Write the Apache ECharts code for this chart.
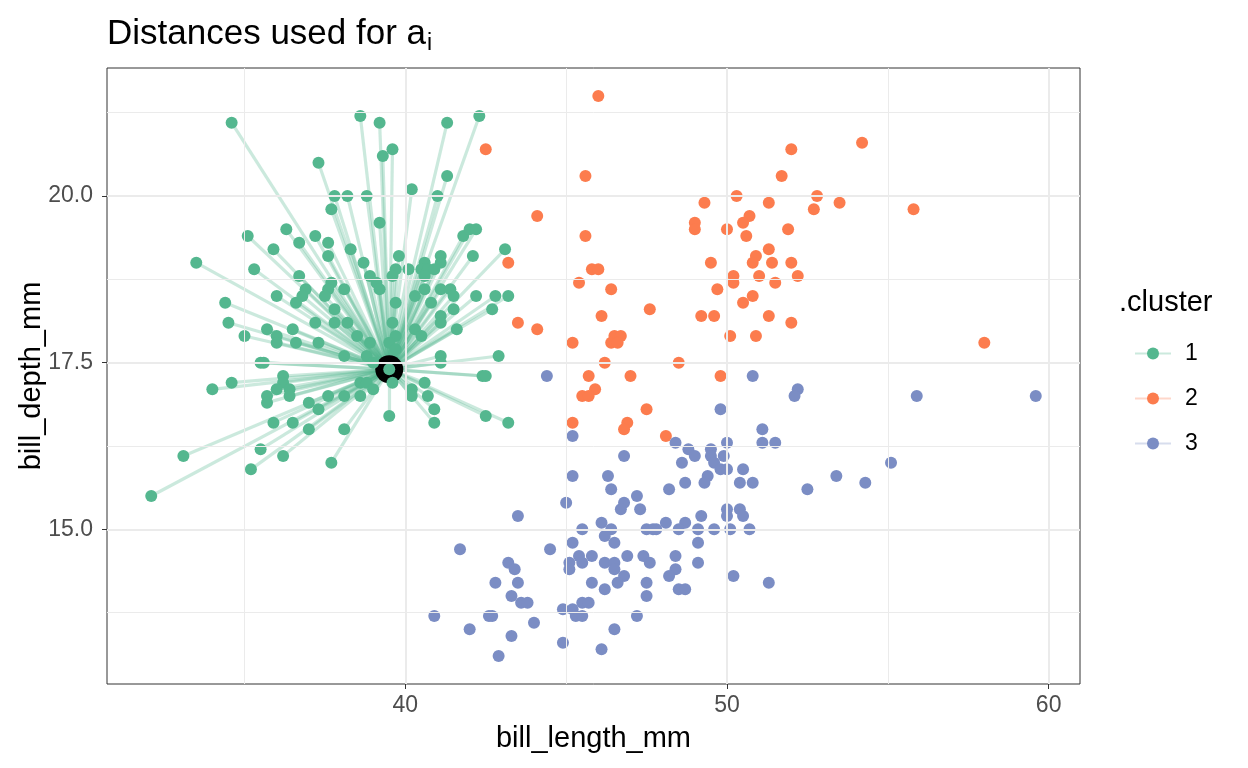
<!DOCTYPE html>
<html><head><meta charset="utf-8">
<script src="https://cdn.jsdelivr.net/npm/echarts@6/dist/echarts.min.js"></script>
<style>html,body{margin:0;padding:0;background:#fff}#c{width:1248px;height:768px}</style>
</head><body><div id="c"></div>
<script>
// ---- data (bill_length_mm, bill_depth_mm) ----
const cluster1 = [
[34.6,21.1],[37.3,20.5],[37.8,20.0],[38.2,20.0],[37.7,19.8],[38.6,21.2],[38.3,19.2],[35.1,19.4],[36.3,19.5],[37.2,19.4],
[36.7,19.3],[37.6,19.3],[35.9,19.2],[37.6,19.1],[33.5,19.0],[35.3,18.9],[36.7,18.8],[37.7,18.7],[36.9,18.6],
[39.2,21.1],[41.3,21.1],[42.3,21.2],[39.6,20.7],[39.3,20.6],[41.3,20.3],[40.2,20.1],[38.8,20.0],[41.0,20.0],[39.2,19.6],
[41.8,19.4],[42.0,19.5],[42.2,19.5],[43.1,19.2],[42.1,19.1],[38.7,19.0],[39.8,19.1],[38.9,18.8],[39.1,18.7],[39.7,18.9],
[39.6,18.8],[40.1,18.9],[40.6,19.0],[41.1,19.1],[41.1,19.0],[40.5,18.9],[40.7,18.9],[40.9,18.9],[40.6,18.8],
[37.6,18.6],[38.1,18.6],[39.2,18.6],[40.3,18.5],[40.6,18.6],[40.8,18.4],[41.1,18.6],[41.4,18.6],[41.5,18.5],[41.5,18.3],
[42.2,18.5],[42.8,18.5],[43.2,18.5],[42.7,18.3],[41.1,18.2],[41.1,18.1],[41.6,18.0],[40.3,18.0],[40.5,17.9],[39.7,18.4],
[39.6,18.1],[39.7,17.9],[39.5,17.8],[39.7,17.7],[38.9,17.8],[38.5,17.9],[38.2,18.1],[37.8,18.1],[37.8,18.3],[38.1,17.6],
[38.8,17.6],[39.0,17.5],[41.1,17.6],[41.1,17.5],[42.9,17.6],[42.4,17.3],[42.5,17.3],[39.5,17.4],[39.6,17.2],[38.6,17.2],
[38.8,17.2],[39.0,17.1],[38.1,17.0],[37.6,17.0],[38.6,17.0],[40.2,17.1],[40.2,17.0],[40.6,17.2],[40.7,17.0],[40.9,16.8],
[40.9,16.6],[39.5,16.7],[38.1,16.5],[42.5,16.7],[43.2,16.6],
[34.4,18.4],[34.5,18.1],[35.0,17.9],[36.0,18.5],[36.6,18.4],[36.8,18.5],[37.5,18.5],[35.7,18.0],[36.0,17.9],[36.0,17.8],
[36.5,18.0],[36.6,17.8],[37.2,18.1],[37.3,17.8],[35.5,17.5],[35.6,17.5],[34.6,17.2],[34.0,17.1],[36.2,17.3],[36.2,17.2],
[36.0,17.1],[36.4,17.1],[35.7,17.0],[35.7,16.9],[36.4,17.0],[37.0,16.9],[37.3,16.8],[35.9,16.6],[36.5,16.6],[37.0,16.5],
[35.5,16.2],[36.2,16.1],[33.1,16.1],[35.2,15.9],[37.7,16.0],[32.1,15.5]
];
const cluster2 = [
[42.5,20.7],[43.2,19.0],[43.5,18.1],[44.1,18.0],[46.0,21.5],[45.6,20.3],[44.1,19.7],[45.6,19.4],[49.3,19.9],[49.0,19.6],
[49.0,19.5],[50.0,19.5],[50.3,20.0],[49.5,19.0],[50.2,18.8],[50.2,18.7],[49.7,18.6],[45.8,18.9],[46.0,18.9],[45.4,18.7],
[46.4,18.6],[54.2,20.8],[52.0,20.7],[51.7,20.3],[51.3,19.9],[52.8,20.0],[52.7,19.8],[53.5,19.9],[55.8,19.8],[50.7,19.7],
[50.5,19.6],[50.6,19.4],[51.9,19.5],[51.3,19.2],[50.9,19.1],[50.8,19.0],[51.4,19.0],[52.0,19.0],[51.0,18.8],[51.5,18.7],
[52.2,18.8],[50.8,18.5],[50.5,18.4],[51.3,18.2],[52.0,18.1],[50.1,17.9],[50.9,17.9],[58.0,17.8],[47.6,18.3],[46.1,18.2],
[49.2,18.2],[49.6,18.2],[45.2,17.8],[46.5,17.9],[46.7,17.9],[46.4,17.8],[46.6,17.8],[46.2,17.5],[48.5,17.5],[45.7,17.3],
[47.0,17.3],[49.8,17.3],[45.9,17.1],[45.5,17.0],[45.7,17.0],[47.5,16.8],[45.2,16.6],[46.9,16.6],[46.8,16.5],[48.1,16.4]
];
const cluster3 = [
[44.4,17.3],[50.8,17.3],[49.8,16.8],[45.2,16.4],[48.4,16.3],[48.8,16.2],[49.5,16.2],[50.0,16.3],[51.1,16.5],[51.1,16.3],
[51.5,16.3],[52.2,17.1],[52.1,17.0],[55.9,17.0],[59.6,17.0],[55.1,16.0],[53.4,15.8],[54.3,15.7],[52.5,15.6],[49.0,16.1],
[49.5,16.1],[49.9,16.1],[48.6,16.0],[49.6,16.0],[49.8,15.9],[50.0,15.9],[50.5,15.9],[49.4,15.8],[49.3,15.7],[48.7,15.7],
[50.4,15.7],[50.8,15.7],[48.2,15.6],[47.2,15.5],[47.3,15.3],[50.0,15.3],[50.0,15.2],[50.4,15.3],[50.5,15.2],[49.2,15.2],
[48.1,15.1],[48.7,15.1],[48.5,15.0],[47.5,15.0],[47.7,15.0],[47.8,15.0],[49.1,15.0],[49.6,15.0],[50.1,15.0],[50.7,15.0],
[49.1,14.8],[49.1,14.5],[46.9,14.6],[47.4,14.6],[47.6,14.5],[48.4,14.6],[48.4,14.4],[48.2,14.3],[47.5,14.2],[47.5,14.0],
[48.5,14.1],[48.7,14.1],[50.2,14.3],[51.3,14.2],[46.8,16.1],[45.2,15.8],[46.3,15.8],[46.4,15.6],[45.0,15.4],[46.8,15.4],
[46.7,15.3],[43.5,15.2],[46.1,15.1],[46.4,15.0],[46.2,14.9],[45.5,15.0],[46.5,14.8],[45.2,14.8],[44.5,14.7],[41.7,14.7],
[45.4,14.6],[45.8,14.6],[45.5,14.5],[45.1,14.5],[45.1,14.4],[46.2,14.5],[46.5,14.5],[46.5,14.4],[46.8,14.3],[46.6,14.2],
[45.8,14.2],[46.2,14.1],[43.2,14.5],[43.4,14.4],[42.8,14.2],[43.5,14.2],[43.3,14.0],[43.6,13.9],[43.8,13.9],[42.6,13.7],
[42.7,13.7],[40.9,13.7],[42.0,13.5],[44.0,13.6],[43.3,13.4],[42.9,13.1],[44.9,13.8],[45.2,13.8],[45.5,13.9],[45.7,13.9],
[45.3,13.7],[45.5,13.7],[44.9,13.3],[46.5,13.5],[46.1,13.2],[47.2,13.7]
];
const target = [39.5, 17.4];
const clusterNames = ['1', '2', '3'];
const xTicks = [40, 50, 60];
const xMinor = [35, 45, 55];
const yTicks = [15, 17.5, 20];
const yMinor = [13.75, 16.25, 18.75, 21.25];

// ---- styles ----
const colors = ['#54B78F', '#FC7C4E', '#7B8DC4'];
const FONT = 'Liberation Sans, Arial, sans-serif';
const clusters = [cluster1, cluster2, cluster3];

const chart = echarts.init(document.getElementById('c'), null, {renderer: 'canvas'});

const gridLines = [].concat(
  xMinor.map(v => ({xAxis: v, lineStyle: {width: 1}})),
  yMinor.map(v => ({yAxis: v, lineStyle: {width: 1}})),
  xTicks.map(v => ({xAxis: v, lineStyle: {width: 2}})),
  yTicks.map(v => ({yAxis: v, lineStyle: {width: 2}}))
);

const series = [];
// legend carriers (line + point keys)
clusterNames.forEach((n, i) => {
  series.push({
    name: n, type: 'line', data: [], symbol: 'circle', symbolSize: 12,
    itemStyle: {color: colors[i]},
    lineStyle: {color: colors[i], width: 4, opacity: 0.3}
  });
});
// gridlines
series.push({
  name: 'grid', type: 'scatter', data: [], silent: true, z: 0,
  markLine: {
    silent: true, symbol: ['none', 'none'], animation: false,
    label: {show: false},
    lineStyle: {color: '#EBEBEB', type: 'solid'},
    data: gridLines
  }
});
// distance segments from target to cluster-1 points
series.push({
  name: 'dist', type: 'lines', coordinateSystem: 'cartesian2d', silent: true, z: 1,
  lineStyle: {color: colors[0], width: 3.2, opacity: 0.3},
  data: cluster1.map(p => ({coords: [target, p]}))
});
// highlighted observation
series.push({
  name: 'target', type: 'scatter', data: [target], symbolSize: 28, silent: true, z: 2,
  itemStyle: {color: '#000000', opacity: 1}
});
clusters.forEach((c, i) => {
  series.push({
    name: clusterNames[i], type: 'scatter', data: c, symbolSize: 12, z: 3,
    itemStyle: {color: colors[i], opacity: 1}
  });
});

chart.setOption({
  animation: false,
  backgroundColor: '#ffffff',
  textStyle: {fontFamily: FONT},
  title: [{
    text: 'Distances used for a{sub|i}',
    left: 102, top: 9,
    textStyle: {fontFamily: FONT, fontSize: 35, fontWeight: 'normal', color: '#000',
      rich: {sub: {fontFamily: FONT, fontSize: 23, color: '#000', verticalAlign: 'bottom', padding: [18, 0, 0, 1]}}}
  }, {
    text: '.cluster', left: 1114, top: 283,
    textStyle: {fontFamily: FONT, fontSize: 29, fontWeight: 'normal', color: '#000'}
  }],
  legend: {
    data: clusterNames, orient: 'vertical', left: 1129, top: 337,
    itemWidth: 36, itemHeight: 15, itemGap: 22,
    selectedMode: false,
    textStyle: {fontFamily: FONT, fontSize: 23, color: '#000', padding: [0, 0, 0, 9]}
  },
  grid: {left: 107, right: 168, top: 68, bottom: 84, show: true,
    borderColor: '#333333', borderWidth: 1, backgroundColor: '#ffffff'},
  xAxis: {
    type: 'value', min: 30.725, max: 60.975,
    name: 'bill_length_mm', nameLocation: 'middle', nameGap: 40,
    nameMoveOverlap: false,
    nameTextStyle: {fontFamily: FONT, fontSize: 29, color: '#000'},
    axisLine: {show: false},
    axisTick: {show: true, length: 5, lineStyle: {color: '#333333'}, customValues: xTicks},
    axisLabel: {customValues: xTicks, fontFamily: FONT, fontSize: 23, color: '#4D4D4D', margin: 10},
    splitLine: {show: false}
  },
  yAxis: {
    type: 'value', min: 12.68, max: 21.92,
    name: 'bill_depth_mm', nameLocation: 'middle', nameGap: 61,
    nameMoveOverlap: false,
    nameTextStyle: {fontFamily: FONT, fontSize: 29, color: '#000'},
    axisLine: {show: false},
    axisTick: {show: true, length: 5, lineStyle: {color: '#333333'}, customValues: yTicks},
    axisLabel: {customValues: yTicks, fontFamily: FONT, fontSize: 23, color: '#4D4D4D', margin: 14,
      formatter: v => Number(v).toFixed(1)},
    splitLine: {show: false}
  },
  series: series
});
</script></body></html>
